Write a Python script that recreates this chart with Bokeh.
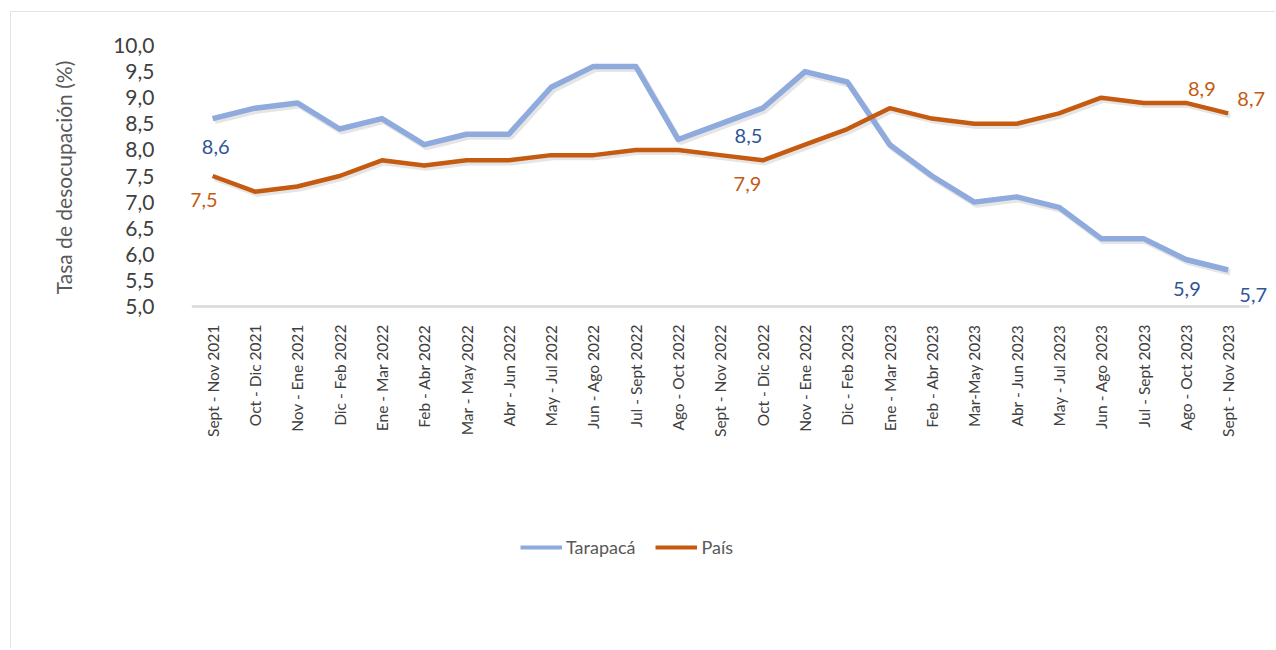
import numpy as np
from bokeh.plotting import figure
from bokeh.layouts import column
from bokeh.models import (ColumnDataSource, Range1d, FixedTicker,
                          LabelSet, Legend, LegendItem)
from bokeh.core.properties import value
from bokeh.transform import dodge
from bokeh.embed import file_html
from bokeh.resources import INLINE

periods = ["Sept - Nov 2021", "Oct - Dic 2021", "Nov - Ene 2021", "Dic - Feb 2022",
           "Ene - Mar 2022", "Feb - Abr 2022", "Mar - May 2022", "Abr - Jun 2022",
           "May - Jul 2022", "Jun - Ago 2022", "Jul - Sept 2022", "Ago - Oct 2022",
           "Sept - Nov 2022", "Oct - Dic 2022", "Nov - Ene 2022", "Dic - Feb 2023",
           "Ene - Mar 2023", "Feb - Abr 2023", "Mar-May 2023", "Abr - Jun 2023",
           "May - Jul 2023", "Jun - Ago 2023", "Jul - Sept 2023", "Ago - Oct 2023",
           "Sept - Nov 2023"]
tarapaca = [8.6, 8.8, 8.9, 8.4, 8.6, 8.1, 8.3, 8.3, 9.2, 9.6, 9.6, 8.2, 8.5,
            8.8, 9.5, 9.3, 8.1, 7.5, 7.0, 7.1, 6.9, 6.3, 6.3, 5.9, 5.7]
pais = [7.5, 7.2, 7.3, 7.5, 7.8, 7.7, 7.8, 7.8, 7.9, 7.9, 8.0, 8.0, 7.9,
        7.8, 8.1, 8.4, 8.8, 8.6, 8.5, 8.5, 8.7, 9.0, 8.9, 8.9, 8.7]
y_ticks = [5.0, 5.5, 6.0, 6.5, 7.0, 7.5, 8.0, 8.5, 9.0, 9.5, 10.0]
y_tick_labels = ["5,0", "5,5", "6,0", "6,5", "7,0", "7,5", "8,0", "8,5", "9,0", "9,5", "10,0"]
labeled_idx = [0, 12, 23, 24]
series_names = ["Tarapacá", "País"]
axis_title = "Tasa de desocupación (%)"

BLUE = "#8FAADC"
BLUE_TXT = "#2F5597"
ORANGE = "#C55A11"
FONT = "Lato"

xs = list(range(len(periods)))
src = ColumnDataSource(dict(x=xs, t=tarapaca, p=pais))

W = 1264
# frame bottom slightly below 5,0 so the baseline and low labels are not clipped
p = figure(width=W, height=448, output_backend="svg", toolbar_location=None,
           x_range=Range1d(-0.5, 25.0), y_range=Range1d(4.943, y_ticks[-1]),
           min_border_left=180, min_border_right=5, min_border_top=33,
           min_border_bottom=151)
p.outline_line_color = None
p.xgrid.grid_line_color = None
p.ygrid.grid_line_color = None
p.background_fill_color = "white"
p.border_fill_color = "white"

# category axis baseline (spans the category slots)
p.segment(x0=[xs[0] - 0.5], x1=[xs[-1] + 0.5], y0=[y_ticks[0]], y1=[y_ticks[0]],
          line_color="#D9D9D9", line_width=2.5)

# soft shadows
p.line(x=dodge("x", 0.05), y=dodge("t", -0.05), source=src,
       line_color="black", line_alpha=0.10, line_width=6)
p.line(x=dodge("x", 0.05), y=dodge("p", -0.05), source=src,
       line_color="black", line_alpha=0.10, line_width=5)

p.line("x", "t", source=src, line_color=BLUE, line_width=5.5, line_join="round")
p.line("x", "p", source=src, line_color=ORANGE, line_width=4.5, line_join="round")

# axes
p.yaxis.ticker = FixedTicker(ticks=y_ticks)
p.yaxis.major_label_overrides = {t: l for t, l in zip(y_ticks, y_tick_labels)}
p.yaxis.axis_line_color = None
p.yaxis.major_tick_line_color = None
p.yaxis.minor_tick_line_color = None
p.yaxis.major_label_text_font = FONT
p.yaxis.major_label_text_font_size = "21px"
p.yaxis.major_label_text_color = "#404040"
p.yaxis.major_label_standoff = 31
p.yaxis.axis_label = axis_title
p.yaxis.axis_label_text_font = FONT
p.yaxis.axis_label_text_font_size = "21px"
p.yaxis.axis_label_text_font_style = "normal"
p.yaxis.axis_label_text_color = "#595959"
p.yaxis.axis_label_standoff = 34

p.xaxis.ticker = FixedTicker(ticks=xs)
p.xaxis.major_label_overrides = {i: s for i, s in zip(xs, periods)}
p.xaxis.axis_line_color = None
p.xaxis.major_tick_line_color = None
p.xaxis.minor_tick_line_color = None
p.xaxis.major_label_orientation = np.pi / 2
p.xaxis.major_label_text_font = FONT
p.xaxis.major_label_text_font_size = "15.5px"
p.xaxis.major_label_text_color = "#404040"
p.xaxis.major_label_standoff = 9

# data labels
fmt = lambda v: f"{v:.1f}".replace(".", ",")
lab_t = ColumnDataSource(dict(
    x=[xs[i] for i in labeled_idx], y=[tarapaca[i] for i in labeled_idx],
    text=[fmt(tarapaca[i]) for i in labeled_idx],
    dx=[3, 28, 1, 25], dy=[-28, -12, -29, -25]))
lab_p = ColumnDataSource(dict(
    x=[xs[i] for i in labeled_idx], y=[pais[i] for i in labeled_idx],
    text=[fmt(pais[i]) for i in labeled_idx],
    dx=[-9, 27, 16, 23], dy=[-24, -29, 14, 14]))
for s, c in ((lab_t, BLUE_TXT), (lab_p, ORANGE)):
    p.add_layout(LabelSet(x="x", y="y", text="text", source=s, x_offset="dx", y_offset="dy",
                          text_align="center", text_baseline="middle",
                          text_font=value(FONT), text_font_size="20px", text_color=c))

# legend strip beneath the chart (its swatch lines lie outside this strip's view)
q = figure(width=W, height=188, output_backend="svg", toolbar_location=None,
           x_range=Range1d(-200, -199), y_range=Range1d(-200, -199),
           x_axis_location=None, y_axis_location=None,
           min_border_left=0, min_border_right=0, min_border_top=0, min_border_bottom=0)
q.outline_line_color = None
q.xgrid.grid_line_color = None
q.ygrid.grid_line_color = None
k1 = q.line("x", "t", source=src, line_color=BLUE, line_width=4)
k2 = q.line("x", "p", source=src, line_color=ORANGE, line_width=4)
legend = Legend(items=[LegendItem(label=series_names[0], renderers=[k1]),
                       LegendItem(label=series_names[1], renderers=[k2])],
                orientation="horizontal", location=(329, 90),
                glyph_width=42, glyph_height=20, label_height=20, label_standoff=4,
                spacing=20, padding=0, margin=0, border_line_color=None,
                background_fill_alpha=0, label_text_font=FONT,
                label_text_font_size="18px", label_text_color="#595959")
q.add_layout(legend)

layout = column(p, q, spacing=0,
                styles={"border-top": "1px solid #E3E3E3", "border-left": "1px solid #E3E3E3",
                        "margin-left": "10px", "margin-top": "11px"})
open("out.html", "w").write(file_html(layout, INLINE))
